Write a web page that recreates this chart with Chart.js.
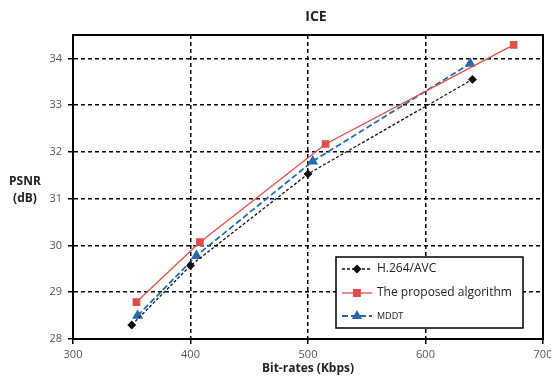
<!DOCTYPE html>
<html>
<head>
<meta charset="utf-8">
<script src="https://cdn.jsdelivr.net/npm/chart.js@4.4.0/dist/chart.umd.min.js"></script>
<style>
  body { margin: 0; background: #fff; }
  #wrap { width: 551px; height: 383px; }
</style>
</head>
<body>
<div id="wrap"><canvas id="myChart" width="551" height="383"></canvas></div>
<script>
// values
var h264X = [350, 400, 500, 640];
var h264Y = [28.3, 29.57, 31.53, 33.55];
var propX = [354, 408, 515, 675];
var propY = [28.79, 30.07, 32.17, 34.29];
var mddtX = [355, 405, 504, 638];
var mddtY = [28.5, 29.78, 31.8, 33.89];
var xTicks = [300, 400, 500, 600, 700];
var yTicks = [28, 29, 30, 31, 32, 33, 34];

function pts(xs, ys) {
  var out = [];
  for (var i = 0; i < xs.length; i++) out.push({x: xs[i], y: ys[i]});
  return out;
}

// titles, frame and the in-plot legend
const extras = {
  id: 'extras',
  afterDraw(chart) {
    const ctx = chart.ctx;
    const a = chart.chartArea;
    ctx.save();
    ctx.strokeStyle = '#000';
    ctx.lineWidth = 2;
    ctx.strokeRect(a.left, a.top, a.right - a.left, a.bottom - a.top);

    ctx.fillStyle = '#222';
    ctx.textAlign = 'center';
    ctx.textBaseline = 'middle';
    ctx.font = 'bold 14px "Open Sans"';
    ctx.fillText('ICE', 316, 17);
    ctx.font = 'bold 12px "Open Sans"';
    ctx.fillText('Bit-rates (Kbps)', 308, 369);
    ctx.fillText('PSNR', 25, 182);
    ctx.fillText('(dB)', 25, 199);

    // legend box
    ctx.fillStyle = '#fff';
    ctx.fillRect(336, 257, 187, 71);
    ctx.strokeStyle = '#000';
    ctx.lineWidth = 1.5;
    ctx.strokeRect(336, 257, 187, 71);
    const rows = [269, 293, 316];
    const sizes = [12, 12, 9];
    chart.data.datasets.forEach(function (ds, i) {
      const y = rows[i];
      ctx.save();
      ctx.strokeStyle = ds.borderColor;
      ctx.lineWidth = ds.borderWidth;
      ctx.setLineDash(ds.borderDash || []);
      ctx.beginPath();
      ctx.moveTo(342, y);
      ctx.lineTo(372, y);
      ctx.stroke();
      ctx.restore();
      ctx.fillStyle = ds.pointBackgroundColor;
      ctx.strokeStyle = ds.pointBorderColor;
      Chart.helpers.drawPoint(ctx, {
        pointStyle: ds.pointStyle, radius: ds.pointRadius, rotation: 0, borderWidth: 1
      }, 357, y);
      ctx.fillStyle = '#222';
      ctx.textAlign = 'left';
      ctx.font = sizes[i] + 'px "Open Sans"';
      ctx.fillText(ds.label, 377, y);
    });
    ctx.restore();
  }
};

const ctx = document.getElementById('myChart').getContext('2d');
const myChart = new Chart(ctx, {
  type: 'line',
  data: {
    datasets: [{
      label: 'H.264/AVC',
      data: pts(h264X, h264Y),
      borderColor: '#111',
      backgroundColor: '#111',
      pointBackgroundColor: '#111',
      pointBorderColor: '#111',
      borderWidth: 1.3,
      borderDash: [3, 2],
      pointStyle: 'rectRot',
      pointRadius: 3.5,
      tension: 0
    }, {
      label: 'The proposed algorithm',
      data: pts(propX, propY),
      borderColor: '#df4e4b',
      backgroundColor: '#df4e4b',
      pointBackgroundColor: '#df4e4b',
      pointBorderColor: '#df4e4b',
      borderWidth: 1.3,
      pointStyle: 'rect',
      pointRadius: 4.5,
      tension: 0
    }, {
      label: 'MDDT',
      data: pts(mddtX, mddtY),
      borderColor: '#2a67ab',
      backgroundColor: '#2a67ab',
      pointBackgroundColor: '#2a67ab',
      pointBorderColor: '#2a67ab',
      borderWidth: 1.8,
      borderDash: [6, 3],
      pointStyle: 'triangle',
      pointRadius: 4.5,
      tension: 0
    }]
  },
  options: {
    responsive: false,
    animation: false,
    layout: { padding: { left: 0, right: 0, top: 35, bottom: 0 } },
    plugins: {
      legend: { display: false },
      title: { display: false },
      tooltip: { enabled: false }
    },
    scales: {
      x: {
        type: 'linear',
        min: 300,
        max: 700,
        afterBuildTicks: function (s) { s.ticks = xTicks.map(function (v) { return {value: v}; }); },
        afterFit: function (s) { s.height = 44; s.paddingRight = 8; },
        ticks: { color: '#555', font: { family: 'Open Sans', size: 11 }, padding: 4, maxRotation: 0 },
        grid: { color: '#000', lineWidth: 1.5, tickLength: 5, tickBorderDash: [], tickColor: '#000' },
        border: { display: true, color: '#000', width: 2, dash: [4, 3] }
      },
      y: {
        type: 'linear',
        min: 28,
        max: 34.5,
        afterBuildTicks: function (s) { s.ticks = yTicks.map(function (v) { return {value: v}; }); },
        afterFit: function (s) { s.width = 73; },
        ticks: { color: '#555', font: { family: 'Open Sans', size: 11 }, padding: 6 },
        grid: { color: '#000', lineWidth: 1.5, tickLength: 5, tickBorderDash: [], tickColor: '#000' },
        border: { display: true, color: '#000', width: 2, dash: [4, 3] }
      }
    }
  },
  plugins: [extras]
});
</script>
</body>
</html>
